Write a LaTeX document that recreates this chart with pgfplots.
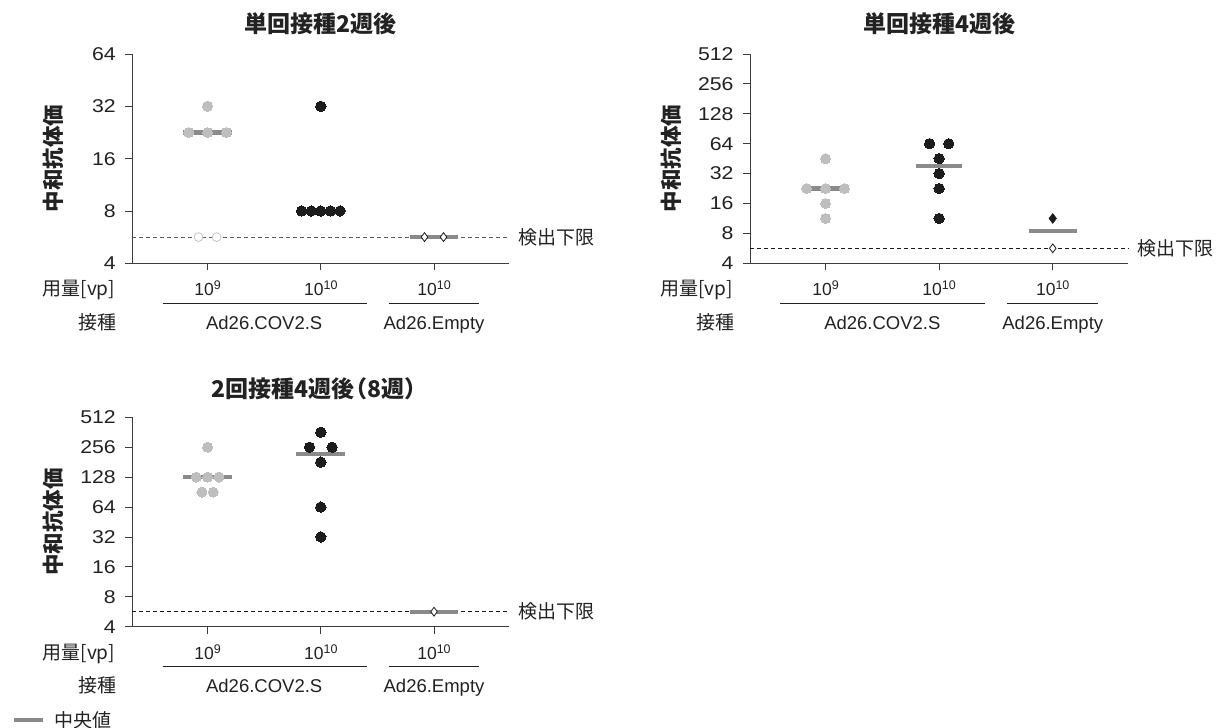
\documentclass[border=0pt]{standalone}
\usepackage{pgfplots}
\pgfplotsset{compat=1.18}
\usepackage{fontspec}
\setmainfont{Liberation Sans}
\newfontfamily\widesans{Liberation Sans}[FakeStretch=1.15]
\newfontfamily\jp{Noto Sans CJK JP}
\definecolor{ptgray}{HTML}{BEBEC0}
\definecolor{medgray}{HTML}{8A8A8A}
\definecolor{ptblack}{HTML}{1C1C1C}
\definecolor{axgray}{HTML}{3C3C3C}
\definecolor{txt}{HTML}{222222}
\definecolor{opengray}{HTML}{C4C4C4}
\newcommand{\jpfont}{\jp\fontsize{19bp}{22bp}\selectfont}
\newcommand{\jpbold}{\jp\bfseries\fontsize{21.5bp}{25bp}\selectfont}
\newcommand{\titlefont}{\jp\bfseries\fontsize{23bp}{27bp}\selectfont}
\newcommand{\latfont}{\fontsize{18.5bp}{22bp}\selectfont}
\newcommand{\tickfont}{\widesans\fontsize{18.5bp}{22bp}\selectfont}
\newcommand{\expfont}{\fontsize{17.5bp}{20bp}\selectfont}
\newcommand{\tenp}[1]{10\raisebox{5.8bp}{\fontsize{12.5bp}{13bp}\selectfont #1}}
\tikzset{lbl/.style={text=txt, inner sep=0pt}}
\pgfplotsset{
  /pgfplots/mypanel/.style={
    scale only axis, anchor=south west, width=377bp, height=209.3bp,
    xmin=-0.665, xmax=2.665,
    axis x line*=bottom, axis y line*=left,
    axis line style={draw=axgray, line width=0.9bp},
    every tick/.style={draw=axgray, line width=0.9bp},
    tick align=outside, major tick length=7bp,
    xtick={0,1,2}, xticklabels={},
    clip=false,
    yticklabel style={font=\tickfont, text=txt, inner sep=0pt, xshift=-9.3bp},
  },
  /pgfplots/gpts/.style={only marks, mark=*, mark size=5bp, mark options={draw=ptgray, fill=ptgray, line width=0pt}},
  /pgfplots/bpts/.style={only marks, mark=*, mark size=5.2bp, mark options={draw=ptblack, fill=ptblack, line width=0pt}},
  /pgfplots/medl/.style={draw=medgray, line width=4.2bp, no marks},
  /pgfplots/lodl/.style={draw=#1, line width=0.9bp, dash pattern=on 4bp off 3bp, no marks},
}
\newcommand{\bottomrows}{%
  \node[lbl, font=\expfont, anchor=base] at ([yshift=-32.4bp]axis cs:0,4) {\tenp{9}};
  \node[lbl, font=\expfont, anchor=base] at ([yshift=-32.4bp]axis cs:1,4) {\tenp{10}};
  \node[lbl, font=\expfont, anchor=base] at ([yshift=-32.4bp]axis cs:2,4) {\tenp{10}};
  \node[lbl, font=\jpfont, anchor=base east] at ([yshift=-32.4bp]axis cs:-0.815,4) {用量[vp]};
  \node[lbl, font=\jpfont, anchor=base east] at ([yshift=-66bp]axis cs:-0.80,4) {接種};
  \node[lbl, font=\latfont, anchor=base] at ([yshift=-66bp]axis cs:0.5,4) {Ad26.COV2.S};
  \node[lbl, font=\latfont, anchor=base] at ([yshift=-66bp]axis cs:2,4) {Ad26.Empty};
  \draw[txt, line width=1.2bp] ([yshift=-40bp]axis cs:-0.397,4) -- ([yshift=-40bp]axis cs:1.404,4);
  \draw[txt, line width=1.2bp] ([yshift=-40bp]axis cs:1.60,4) -- ([yshift=-40bp]axis cs:2.395,4);
  \node[lbl, font=\jpbold, rotate=90, anchor=center] at ([xshift=-79bp]rel axis cs:0,0.5) {中和抗体価};
  \node[lbl, font=\jpfont, anchor=west] at ([xshift=8.7bp]axis cs:2.665,5.66) {検出下限};
}
\begin{document}
\begin{tikzpicture}
\useasboundingbox (0,0) rectangle (1223bp,728bp);
% Panel 1
\begin{axis}[mypanel, at={(132.3bp,464.7bp)}, ymode=log, log basis y=2,
  ymin=4, ymax=64, ytick={4,8,16,32,64}, yticklabels={4,8,16,32,64}]
\addplot[lodl=black!65] coordinates {(-0.665,5.66) (2.665,5.66)};
\addplot[gpts] coordinates {(0,32) (-0.167,22.63) (0,22.63) (0.167,22.63)};
\addplot[only marks, mark=*, mark size=4.4bp, mark options={draw=opengray, fill=white, line width=0.8bp}] coordinates {(-0.08,5.66) (0.08,5.66)};
\addplot[bpts] coordinates {(1,32) (0.83,8) (0.915,8) (1,8) (1.085,8) (1.17,8)};
\addplot[medl] coordinates {(-0.216,22.63) (0.216,22.63)};
\addplot[medl] coordinates {(0.8,8) (1.2,8)};
\addplot[medl] coordinates {(1.784,5.66) (2.216,5.66)};
\addplot[only marks, mark=diamond*, mark size=4.4bp, mark options={draw=ptblack, fill=white, line width=0.8bp}] coordinates {(1.916,5.66) (2.084,5.66)};
\bottomrows
\node[lbl, font=\titlefont, anchor=center] at ([yshift=30.7bp]rel axis cs:0.5,1) {単回接種2週後};
\end{axis}
% Panel 2
\begin{axis}[mypanel, at={(750bp,464.7bp)}, width=378.3bp, ymode=log, log basis y=2,
  ymin=4, ymax=512, ytick={4,8,16,32,64,128,256,512}, yticklabels={4,8,16,32,64,128,256,512}]
\addplot[lodl=black!90] coordinates {(-0.665,5.66) (2.665,5.66)};
\addplot[gpts] coordinates {(0,45.25) (-0.167,22.63) (0,22.63) (0.167,22.63) (0,16) (0,11.31)};
\addplot[bpts] coordinates {(0.916,64) (1.084,64) (1,45.25) (1,32) (1,22.63) (1,11.31)};
\addplot[medl] coordinates {(-0.21,22.63) (0.21,22.63)};
\addplot[medl] coordinates {(0.8,38.5) (1.2,38.5)};
\addplot[medl] coordinates {(1.787,8.45) (2.213,8.45)};
\addplot[only marks, mark=diamond*, mark size=5bp, mark options={draw=ptblack, fill=ptblack, line width=0.5bp}] coordinates {(2,11.31)};
\addplot[only marks, mark=diamond*, mark size=4.4bp, mark options={draw=ptblack, fill=white, line width=0.8bp}] coordinates {(2,5.66)};
\bottomrows
\node[lbl, font=\titlefont, anchor=center] at ([yshift=30.7bp]rel axis cs:0.5,1) {単回接種4週後};
\end{axis}
% Panel 3
\begin{axis}[mypanel, at={(132.3bp,101.3bp)}, height=209.4bp, ymode=log, log basis y=2,
  ymin=4, ymax=512, ytick={4,8,16,32,64,128,256,512}, yticklabels={4,8,16,32,64,128,256,512},
  legend style={draw=none, fill=none, at={(axis description cs:-0.32,-0.4456)}, anchor=west, inner sep=0pt,
    font=\jpfont, text=txt, nodes={inner sep=0pt},
    /tikz/every odd column/.append style={column sep=9.3bp}},
  legend image code/.code={\draw[#1] (0bp,0bp) -- (29bp,0bp);}]
\addlegendimage{draw=medgray, line width=4.2bp}
\addlegendentry{中央値}
\addplot[lodl=black!90] coordinates {(-0.665,5.66) (2.665,5.66)};
\addplot[gpts] coordinates {(0,256) (-0.1,128) (0,128) (0.1,128) (-0.05,90.5) (0.05,90.5)};
\addplot[bpts] coordinates {(1,362) (0.9,256) (1.1,256) (1,181) (1,64) (1,32)};
\addplot[medl] coordinates {(-0.216,128) (0.216,128)};
\addplot[medl] coordinates {(0.784,218.5) (1.216,218.5)};
\addplot[medl] coordinates {(1.784,5.66) (2.216,5.66)};
\addplot[only marks, mark=diamond*, mark size=4.4bp, mark options={draw=ptblack, fill=white, line width=0.8bp}] coordinates {(2,5.66)};
\bottomrows
\node[lbl, font=\titlefont, anchor=center] at ([yshift=29bp, xshift=-1bp]rel axis cs:0.5,1) {2回接種4週後\kern-10bp（8週）};
\end{axis}
\end{tikzpicture}
\end{document}
